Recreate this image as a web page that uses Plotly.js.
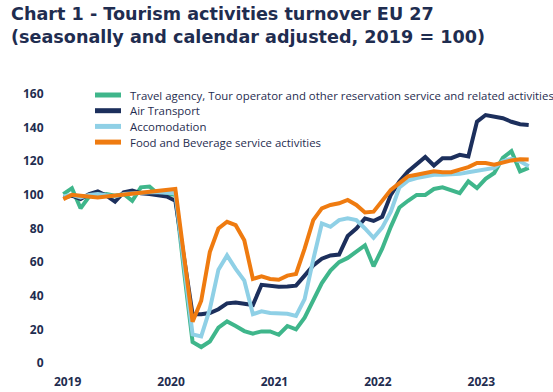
<!DOCTYPE html>
<html>
<head>
<meta charset="utf-8">
<script src="https://cdn.plot.ly/plotly-3.0.1.min.js"></script>
<style>html,body{margin:0;padding:0;background:#fff;}#chart{width:553px;height:392px;}</style>
</head>
<body>
<div id="chart"></div>
<script>
// ---- data ----
const months = [
  '2019-01','2019-02','2019-03','2019-04','2019-05','2019-06','2019-07','2019-08','2019-09','2019-10','2019-11','2019-12',
  '2020-01','2020-02','2020-03','2020-04','2020-05','2020-06','2020-07','2020-08','2020-09','2020-10','2020-11','2020-12',
  '2021-01','2021-02','2021-03','2021-04','2021-05','2021-06','2021-07','2021-08','2021-09','2021-10','2021-11','2021-12',
  '2022-01','2022-02','2022-03','2022-04','2022-05','2022-06','2022-07','2022-08','2022-09','2022-10','2022-11','2022-12',
  '2023-01','2023-02','2023-03','2023-04','2023-05','2023-06','2023-07'
];
const seriesNames = [
  'Travel agency, Tour operator and other reservation service and related activities',
  'Air Transport',
  'Accomodation',
  'Food and Beverage service activities'
];
const travelAgency = [
  100.5,104,92,99,100,100.5,99.5,100.5,96.5,104.5,105,100.5,
  100.5,100,55,12.5,9.5,12.8,21,24.7,22,19,17.5,18.8,
  18.8,16.8,22,20,27,37.5,47.5,55,60,62.5,66,70,
  57.5,68,81,92.5,96.5,100,100,103.5,104.5,103,101,108,
  104,109.5,113,122,126,114,116
];
const airTransport = [
  98.5,99.5,97.5,100.5,102,99.5,96,101.5,102.5,101,100.5,99.5,
  99,96.5,62,29,29,29.7,32,35.5,36,35.5,34.5,46.5,
  46,45.3,45.5,46,52,58,62,64,64.5,75.5,80,86,
  84.5,87,100,108,114,118.5,122.5,117.5,121.8,121.8,123.8,122.8,
  143.6,147.5,146.5,145.6,143.5,142,141.6
];
const accomodation = [
  99,100,98.5,100,100.5,100,99,100.5,101,101,101.5,101.5,
  101.5,101,59,17,15.8,32,55.5,64,56,49,29,30.7,
  29.7,29.5,29.3,28,38,61.5,83,81,85,86,85,80,
  74.5,80.5,90,104.5,108.5,110,111,112,112,112,112.5,113.5,
  114.5,115,116,120,121.5,120,117
];
const foodBeverage = [
  97.5,100,99.5,99,98.5,99,99.5,100,100.5,101.5,102,102.5,
  103,103.5,64,24.5,37,66,80,84,82,73,50,51.5,
  50,49.5,52,53,68,85,92,94,95,97,94,89.5,
  90,97,103,107,111,112,113,114,113.5,113.5,115,116.5,
  119,119,118,119.5,120.5,121.2,121
];
const yearLabels = ['2019','2020','2021','2022','2023'];
const yTicks = [0,20,40,60,80,100,120,140,160];
const titleLines = ['Chart 1 - Tourism activities turnover EU 27', '(seasonally and calendar adjusted, 2019 = 100)'];

// ---- styling ----
const colors = ['#3fb68b','#1c2f5c','#8fd0e6','#ef7b10'];
const navy = '#1f2d50';
const W = 553, H = 392;
const M = {l:59, r:20, t:94, b:29};
const pw = W - M.l - M.r, ph = H - M.t - M.b;
const pxX = px => (px - M.l) / pw;
const pxY = py => (H - M.b - py) / ph;

const values = [travelAgency, airTransport, accomodation, foodBeverage];
const traces = values.map((v, k) => ({
  type: 'scatter', mode: 'lines', x: months, y: v, name: seriesNames[k],
  line: {color: colors[k], width: 4}, hoverinfo: 'skip', showlegend: false
}));

const shapes = [], annotations = [];
seriesNames.forEach((nm, k) => {
  const yc = 95 + 15.7 * k;
  shapes.push({type:'line', xref:'paper', yref:'paper', x0:pxX(95), x1:pxX(121), y0:pxY(yc), y1:pxY(yc),
    line:{color:colors[k], width:5}});
  annotations.push({xref:'paper', yref:'paper', x:pxX(128), y:pxY(yc), xanchor:'left', yanchor:'middle',
    text:nm, showarrow:false, font:{family:'Open Sans', size:11.4, color:navy}});
});
annotations.push({xref:'paper', yref:'paper', x:pxX(9), y:pxY(25.5), xanchor:'left', yanchor:'middle', align:'left',
  text:titleLines.join('<br>'), showarrow:false, font:{family:'DejaVu Sans', size:17.6, color:navy, weight:700}});

const yearPos = yearLabels.map((_, i) => 0.5 + 12 * i);

const layout = {
  width: W, height: H, margin: M,
  paper_bgcolor:'#fff', plot_bgcolor:'#fff',
  xaxis: {type:'category', range:[-0.5, months.length - 0.5], showgrid:false, zeroline:false, showline:false,
    tickmode:'array', tickvals: yearPos, ticktext: yearLabels, ticks:'outside', ticklen:8, tickcolor:'rgba(0,0,0,0)',
    tickfont:{family:'Open Sans', size:12, color:navy, weight:700}},
  xaxis2: {overlaying:'x', anchor:'free', position: 100/160, range:[-0.5, months.length - 0.5],
    showgrid:false, zeroline:false, showline:true, linecolor:'#8c8c8c', linewidth:1, layer:'below traces',
    tickmode:'linear', tick0:-0.5, dtick:12, ticks:'outside', ticklen:4, tickwidth:2, tickcolor:navy,
    showticklabels:false,
    minor:{tick0:-0.5, dtick:6, ticks:'outside', ticklen:3, tickwidth:1, tickcolor:'#8c8c8c'}},
  yaxis: {range:[0,160], tickmode:'array', tickvals:yTicks, showgrid:false, zeroline:false, showline:false,
    ticks:'outside', ticklen:12, tickcolor:'rgba(0,0,0,0)',
    tickfont:{family:'Open Sans', size:12, color:navy, weight:700}},
  shapes: shapes, annotations: annotations, showlegend:false
};
Plotly.newPlot('chart', traces, layout, {displayModeBar:false, staticPlot:true});
</script>
</body>
</html>
